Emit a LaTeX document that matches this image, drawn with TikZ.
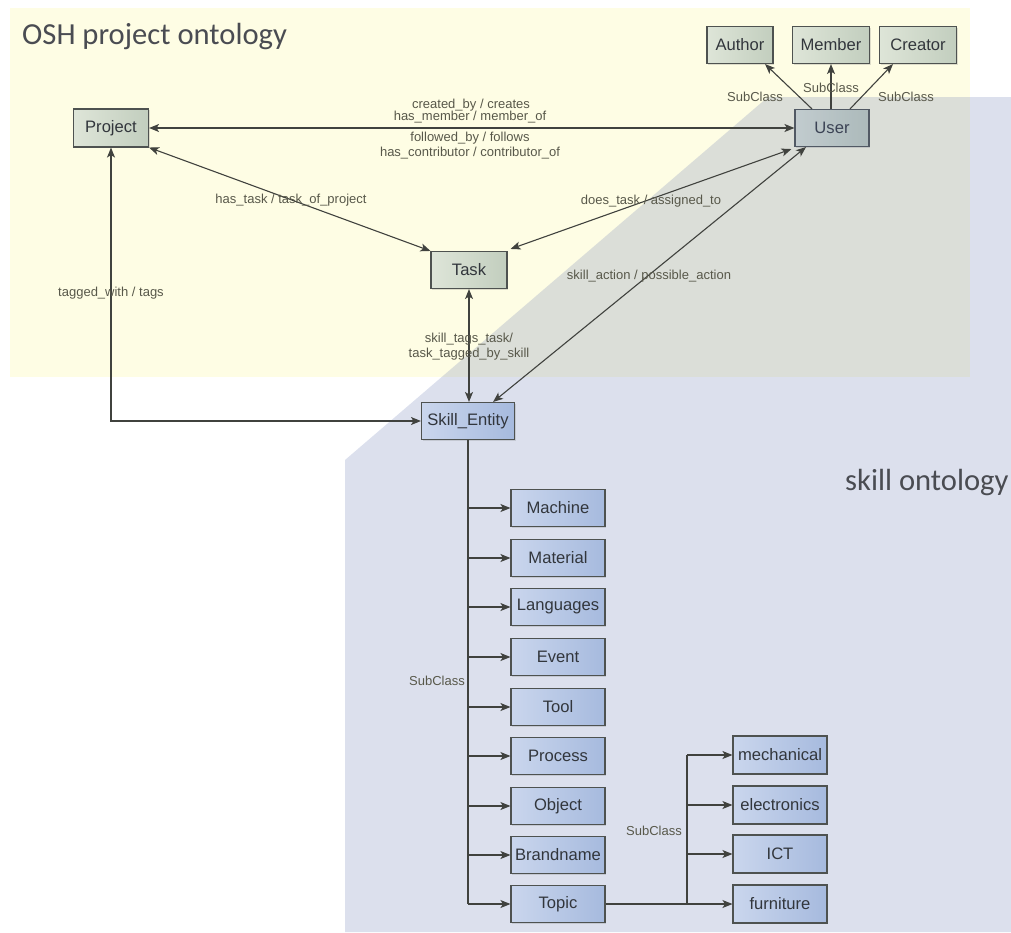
\documentclass[tikz,border=0pt]{standalone}
\usepackage{fontspec}
\setmainfont{Liberation Sans}
\newfontfamily\headfont{Carlito}
\usetikzlibrary{arrows.meta,shadows}

\definecolor{bgyellow}{RGB}{254,253,228}
\definecolor{overlayblue}{RGB}{95,115,175}
\definecolor{boxline}{RGB}{78,82,80}
\definecolor{greenL}{RGB}{222,229,216}
\definecolor{greenR}{RGB}{194,206,190}
\definecolor{blueL}{RGB}{202,214,237}
\definecolor{blueR}{RGB}{166,186,222}
\definecolor{edgecol}{RGB}{64,66,62}
\definecolor{labelcol}{RGB}{88,88,74}
\definecolor{headcol}{RGB}{74,76,82}
\definecolor{nodetext}{RGB}{50,54,60}

\tikzset{
  cls/.style={draw=boxline, line width=1.1pt, inner sep=0pt, minimum height=37pt,
    font=\fontsize{16.6}{20}\selectfont, text=nodetext,
    drop shadow={shadow xshift=1.3pt, shadow yshift=-1.3pt, opacity=0.25}},
  oshbox/.style={cls, left color=greenL, right color=greenR},
  skillbox/.style={cls, left color=blueL, right color=blueR, minimum width=94pt},
  link/.style={draw=edgecol, line width=1.1pt},
  tip/.tip={Stealth[length=10pt,width=8pt,inset=2.5pt]},
  uni/.style={link, -tip},
  bi/.style={link, tip-tip},
  lbl/.style={font=\fontsize{13}{15}\selectfont, text=labelcol, inner sep=0pt, align=center},
  headline/.style={font=\headfont\fontsize{30.6}{36}\selectfont, text=headcol, inner sep=0pt}
}

\begin{document}
\begin{tikzpicture}[x=1pt, y=-1pt]
\useasboundingbox (0,0) rectangle (1011,932);

% project ontology area
\fill[bgyellow] (10,8) rectangle (970,377);
\node[headline, anchor=base west] (osh) at (22,44) {OSH project ontology};

% project ontology classes
\node[oshbox, minimum width=75pt, minimum height=38pt] (project) at (111,128) {Project};
\node[oshbox, minimum width=66pt] (author)  at (740,45) {Author};
\node[oshbox, minimum width=77pt] (member)  at (831,45) {Member};
\node[oshbox, minimum width=77pt] (creator) at (918,45) {Creator};
\node[oshbox, minimum width=74pt] (user)    at (832,128) {User};
\node[oshbox, minimum width=76pt] (task)    at (469,270) {Task};

% skill ontology area (translucent, laid over the upper part)
\fill[overlayblue, fill opacity=0.22] (345,932) -- (345,460) -- (768,97) -- (1011,97) -- (1011,932) -- cycle;
\node[headline, anchor=base west] (skillhead) at (845,490) {skill ontology};

% skill ontology classes
\node[skillbox, minimum width=93pt] (skill) at (468,421) {Skill\_Entity};
\node[skillbox] (machine)   at (558,508) {Machine};
\node[skillbox] (material)  at (558,558) {Material};
\node[skillbox] (languages) at (558,607) {Languages};
\node[skillbox] (event)     at (558,657) {Event};
\node[skillbox] (tool)      at (558,707) {Tool};
\node[skillbox] (process)   at (558,756) {Process};
\node[skillbox] (object)    at (558,806) {Object};
\node[skillbox] (brandname) at (558,855) {Brandname};
\node[skillbox] (topic)     at (558,904) {Topic};

\node[skillbox, minimum height=38pt] (mechanical)  at (780,755) {mechanical};
\node[skillbox, minimum height=38pt] (electronics) at (780,805) {electronics};
\node[skillbox, minimum height=38pt] (ict)         at (780,854) {ICT};
\node[skillbox, minimum height=38pt] (furniture)   at (780,904) {furniture};

% user subclasses
\draw[uni] ([xshift=-20pt]user.north) -- ([xshift=25pt]author.south);
\draw[uni] (user.north -| member.south) -- (member.south);
\draw[uni] ([xshift=18pt]user.north) -- ([xshift=-25pt]creator.south);
\node[lbl] (sc1) at (755,97) {SubClass};
\node[lbl] (sc2) at (831,88) {SubClass};
\node[lbl] (sc3) at (906,97) {SubClass};

% object properties
\draw[bi] (project.east) -- (user.west);
\node[lbl] (r1) at (471,105) {created\_by / creates};
\node[lbl] (r2) at (470,117) {has\_member / member\_of};
\node[lbl] (r3) at (470,138) {followed\_by / follows};
\node[lbl] (r4) at (470,153) {has\_contributor / contributor\_of};

\draw[bi] (project.south east) -- (task.north west);
\node[lbl] (r5) at (291,200) {has\_task / task\_of\_project};

\draw[bi] ([xshift=-3pt,yshift=-2pt]user.south west) -- ([xshift=3pt,yshift=2pt]task.north east);
\node[lbl] (r6) at (651,201) {does\_task / assigned\_to};

\draw[bi] ([xshift=-26pt]user.south) -- ([xshift=-22pt]skill.north east);
\node[lbl] (r7) at (649,276) {skill\_action / possible\_action};

\draw[bi] (task.south) -- (task.south |- skill.north);
\node[lbl] (r8) at (469,347) {skill\_tags\_task/\\task\_tagged\_by\_skill};

\draw[bi] (project.south) |- (skill.west);
\node[lbl] (r9) at (111,293) {tagged\_with / tags};

% skill subclass tree
\draw[link] (skill.south) -- (skill.south |- topic.west);
\foreach \c in {machine,material,languages,event,tool,process,object,brandname,topic}
  \draw[uni] (skill.south |- \c.west) -- (\c.west);
\node[lbl] (sc4) at (437,681) {SubClass};

\coordinate (fork) at (687,755);
\draw[link] (fork |- mechanical.west) -- (fork |- furniture.west);
\draw[uni] (topic.east) -- (furniture.west);
\foreach \c in {mechanical,electronics,ict}
  \draw[uni] (fork |- \c.west) -- (\c.west);
\node[lbl] (sc5) at (654,831) {SubClass};
\end{tikzpicture}
\end{document}
